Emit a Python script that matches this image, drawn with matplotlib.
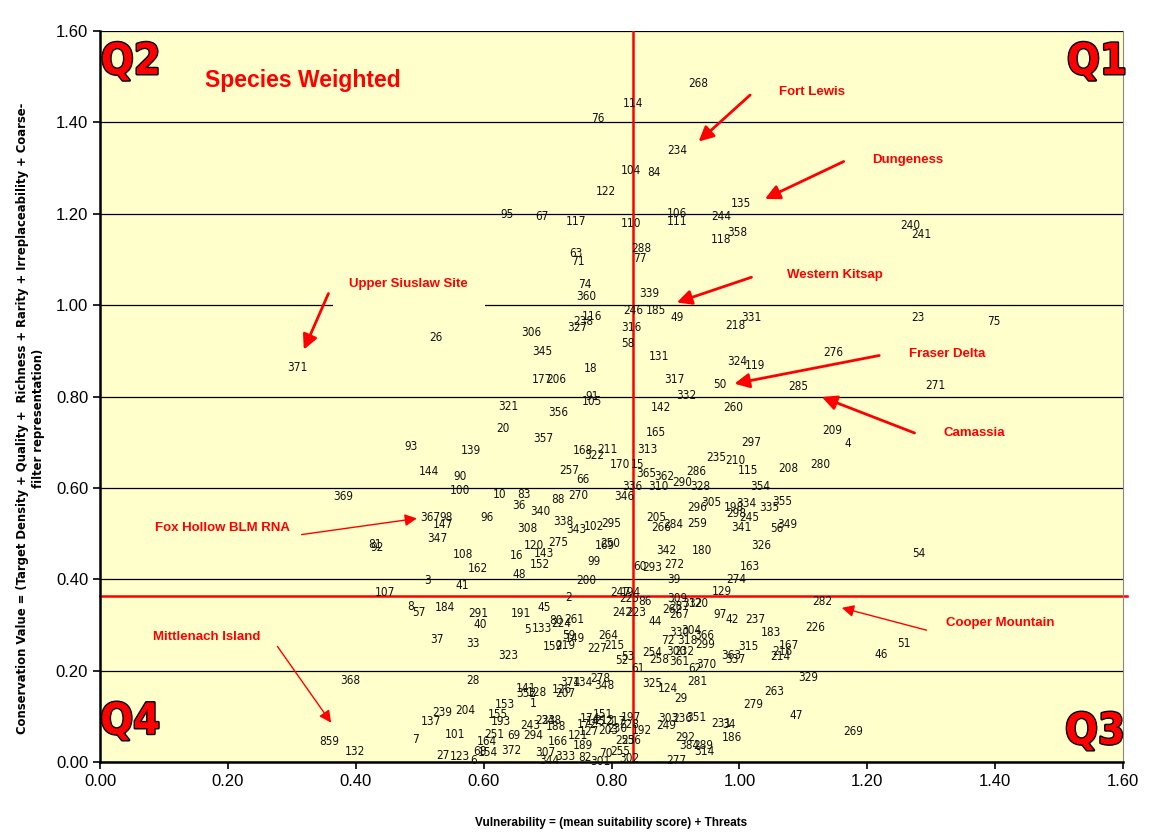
import matplotlib
matplotlib.use("Agg")
import matplotlib.pyplot as plt
import matplotlib.patheffects as pe
from matplotlib import font_manager

# ----------------------------
# Data (site id, vulnerability, conservation value)
# ----------------------------

site_ids = [
    268, 114, 76, 234, 104, 84, 122, 135, 95, 67, 117, 110, 106, 111, 244, 358, 118, 240, 241,
    288, 77, 63, 71, 74, 360, 339, 246, 185, 49, 116, 238, 327, 316, 58, 306, 26, 345, 218,
    331, 23, 75, 131, 18, 177, 206, 317, 324, 119, 50, 276, 271, 285, 332, 91, 105, 371,
    321, 356, 142, 260, 20, 357, 165, 209, 4, 93, 139, 168, 322, 211, 313, 297, 235, 210,
    170, 15, 257, 115, 208, 280, 144, 90, 365, 362, 286, 66, 290, 328, 354, 310, 336, 100,
    369, 10, 83, 270, 88, 346, 36, 340, 296, 305, 334, 198, 298, 245, 335, 355, 96, 367,
    98, 147, 338, 205, 308, 343, 102, 295, 266, 284, 259, 341, 56, 349, 347, 81, 92, 275,
    120, 143, 169, 250, 180, 326, 342, 54, 108, 16, 99, 152, 272, 60, 293, 163, 162, 48,
    274, 3, 41, 39, 200, 129, 107, 2, 247, 194, 225, 86, 309, 312, 320, 262, 287, 267, 282,
    8, 57, 184, 291, 40, 191, 45, 242, 223, 97, 42, 237, 5, 133, 80, 224, 261, 44, 226,
    183, 330, 304, 366, 37, 33, 59, 149, 264, 72, 318, 299, 167, 216, 315, 51, 159, 219,
    227, 215, 254, 258, 300, 232, 361, 363, 337, 214, 46, 323, 52, 53, 370, 62, 61, 368,
    28, 329, 281, 278, 348, 374, 134, 141, 352, 128, 126, 207, 325, 124, 263, 153, 1, 29,
    279, 239, 204, 155, 193, 137, 47, 859, 303, 236, 351, 231, 34, 249, 101, 7, 251, 69,
    164, 243, 294, 233, 248, 188, 186, 269, 166, 121, 127, 189, 292, 384, 289, 314, 27,
    123, 68, 6, 154, 372, 132, 333, 307, 344, 82, 301, 70, 255, 302, 277, 151, 174, 172,
    145, 213, 217, 203, 230, 197, 228, 192, 253, 256,
]

vulnerability = [
    0.936, 0.834, 0.778, 0.903, 0.830, 0.867, 0.791, 1.003, 0.636, 0.691, 0.744, 0.830, 0.902, 0.903, 0.972, 0.997, 0.972, 1.267, 1.284,
    0.847, 0.844, 0.744, 0.747, 0.759, 0.761, 0.859, 0.834, 0.869, 0.903, 0.769, 0.756, 0.747, 0.831, 0.825, 0.675, 0.525, 0.691, 0.994,
    1.019, 1.280, 1.398, 0.875, 0.767, 0.691, 0.714, 0.898, 0.997, 1.025, 0.970, 1.147, 1.306, 1.092, 0.917, 0.769, 0.769, 0.308,
    0.638, 0.717, 0.877, 0.991, 0.630, 0.694, 0.869, 1.145, 1.169, 0.486, 0.580, 0.756, 0.773, 0.794, 0.856, 1.019, 0.964, 0.994,
    0.814, 0.841, 0.734, 1.013, 1.077, 1.127, 0.514, 0.563, 0.855, 0.883, 0.933, 0.755, 0.911, 0.939, 1.033, 0.873, 0.833, 0.563,
    0.381, 0.625, 0.663, 0.748, 0.716, 0.820, 0.655, 0.689, 0.934, 0.956, 1.011, 0.992, 0.995, 1.016, 1.047, 1.067, 0.605, 0.517,
    0.541, 0.536, 0.725, 0.870, 0.669, 0.745, 0.773, 0.800, 0.878, 0.897, 0.934, 1.003, 1.058, 1.075, 0.527, 0.430, 0.433, 0.716,
    0.678, 0.695, 0.789, 0.798, 0.941, 1.034, 0.886, 1.280, 0.567, 0.652, 0.773, 0.688, 0.898, 0.844, 0.864, 1.017, 0.591, 0.655,
    0.995, 0.513, 0.567, 0.898, 0.761, 0.972, 0.445, 0.733, 0.813, 0.831, 0.828, 0.852, 0.903, 0.927, 0.936, 0.895, 0.906, 0.906, 1.130,
    0.486, 0.498, 0.539, 0.592, 0.595, 0.658, 0.694, 0.817, 0.839, 0.969, 0.989, 1.025, 0.669, 0.692, 0.713, 0.722, 0.742, 0.869, 1.119,
    1.050, 0.906, 0.925, 0.945, 0.527, 0.584, 0.733, 0.742, 0.795, 0.888, 0.919, 0.947, 1.077, 1.067, 1.014, 1.258, 0.709, 0.728,
    0.778, 0.805, 0.864, 0.875, 0.902, 0.914, 0.906, 0.988, 0.994, 1.064, 1.222, 0.638, 0.816, 0.825, 0.948, 0.931, 0.842, 0.391,
    0.584, 1.108, 0.934, 0.783, 0.789, 0.736, 0.756, 0.666, 0.667, 0.684, 0.723, 0.728, 0.863, 0.888, 1.055, 0.634, 0.678, 0.908,
    1.022, 0.536, 0.572, 0.622, 0.627, 0.517, 1.089, 0.359, 0.889, 0.911, 0.933, 0.972, 0.983, 0.885, 0.555, 0.494, 0.617, 0.647,
    0.605, 0.673, 0.677, 0.697, 0.706, 0.713, 0.988, 1.178, 0.716, 0.748, 0.764, 0.756, 0.916, 0.922, 0.944, 0.945, 0.536,
    0.563, 0.594, 0.584, 0.606, 0.644, 0.398, 0.728, 0.697, 0.702, 0.759, 0.783, 0.791, 0.813, 0.828, 0.902, 0.786, 0.766, 0.761,
    0.775, 0.789, 0.806, 0.795, 0.809, 0.830, 0.828, 0.848, 0.822, 0.830,
]

conservation = [
    1.486, 1.442, 1.409, 1.339, 1.295, 1.291, 1.249, 1.223, 1.199, 1.195, 1.184, 1.179, 1.201, 1.184, 1.195, 1.160, 1.144, 1.175, 1.155,
    1.123, 1.103, 1.112, 1.096, 1.046, 1.020, 1.026, 0.989, 0.989, 0.972, 0.976, 0.965, 0.950, 0.950, 0.917, 0.941, 0.930, 0.899, 0.956,
    0.974, 0.974, 0.965, 0.888, 0.862, 0.838, 0.838, 0.838, 0.877, 0.869, 0.827, 0.897, 0.825, 0.821, 0.803, 0.799, 0.790, 0.864,
    0.779, 0.766, 0.777, 0.777, 0.729, 0.709, 0.722, 0.726, 0.698, 0.691, 0.681, 0.681, 0.670, 0.685, 0.683, 0.700, 0.667, 0.659,
    0.652, 0.652, 0.639, 0.637, 0.643, 0.652, 0.635, 0.626, 0.632, 0.626, 0.635, 0.619, 0.611, 0.602, 0.602, 0.602, 0.602, 0.595,
    0.582, 0.586, 0.586, 0.584, 0.575, 0.582, 0.562, 0.549, 0.558, 0.567, 0.565, 0.558, 0.545, 0.536, 0.558, 0.571, 0.536, 0.536,
    0.536, 0.519, 0.527, 0.536, 0.512, 0.510, 0.516, 0.523, 0.514, 0.519, 0.521, 0.514, 0.512, 0.519, 0.490, 0.477, 0.470, 0.481,
    0.473, 0.457, 0.475, 0.479, 0.462, 0.473, 0.462, 0.457, 0.455, 0.451, 0.438, 0.433, 0.433, 0.429, 0.425, 0.429, 0.424, 0.411,
    0.400, 0.398, 0.387, 0.400, 0.398, 0.374, 0.372, 0.361, 0.372, 0.372, 0.357, 0.352, 0.359, 0.348, 0.348, 0.333, 0.341, 0.322, 0.352,
    0.341, 0.328, 0.339, 0.324, 0.302, 0.326, 0.339, 0.328, 0.328, 0.322, 0.313, 0.311, 0.291, 0.293, 0.309, 0.304, 0.311, 0.308, 0.295,
    0.284, 0.284, 0.287, 0.278, 0.269, 0.260, 0.276, 0.271, 0.278, 0.267, 0.265, 0.258, 0.254, 0.243, 0.252, 0.260, 0.252, 0.256,
    0.249, 0.254, 0.239, 0.225, 0.243, 0.241, 0.219, 0.234, 0.225, 0.232, 0.236, 0.234, 0.223, 0.230, 0.214, 0.204, 0.204, 0.179,
    0.179, 0.186, 0.177, 0.182, 0.168, 0.175, 0.175, 0.162, 0.151, 0.153, 0.158, 0.151, 0.171, 0.160, 0.155, 0.127, 0.129, 0.138,
    0.125, 0.109, 0.112, 0.105, 0.088, 0.088, 0.101, 0.046, 0.096, 0.096, 0.098, 0.085, 0.083, 0.079, 0.061, 0.050, 0.061, 0.057,
    0.044, 0.079, 0.059, 0.090, 0.090, 0.077, 0.053, 0.066, 0.046, 0.059, 0.066, 0.037, 0.053, 0.037, 0.037, 0.022, 0.015,
    0.013, 0.022, 0.004, 0.020, 0.026, 0.022, 0.013, 0.020, 0.004, 0.009, 0.002, 0.018, 0.022, 0.007, 0.004, 0.103, 0.096, 0.083,
    0.088, 0.090, 0.088, 0.070, 0.074, 0.098, 0.083, 0.068, 0.048, 0.048,
]

# named sites: label, text position, arrow start, arrow tip, line width
site_names = ["Fort Lewis", "Dungeness", "Western Kitsap", "Upper Siuslaw Site", "Fraser Delta",
              "Camassia", "Fox Hollow BLM RNA", "Cooper Mountain", "Mittlenach Island"]
name_pos = [(1.114, 1.466), (1.264, 1.317), (1.150, 1.066), (0.483, 1.046), (1.325, 0.893),
            (1.367, 0.720), (0.191, 0.512), (1.408, 0.304), (0.167, 0.274)]
arrow_from = [(1.020, 1.464), (1.167, 1.317), (1.023, 1.063), (0.359, 1.031), (1.223, 0.891),
              (1.278, 0.718), (0.311, 0.497), (1.297, 0.287), (0.275, 0.258)]
arrow_to = [(0.933, 1.354), (1.036, 1.230), (0.898, 1.004), (0.317, 0.897), (0.988, 0.827),
            (1.125, 0.801), (0.500, 0.534), (1.156, 0.339), (0.364, 0.081)]
arrow_lw = [2, 2, 2, 2, 2, 2, 1, 1, 1]

quadrants = ["Q1", "Q2", "Q3", "Q4"]
quad_pos = [(1.559, 1.532), (0.048, 1.532), (1.556, 0.066), (0.047, 0.088)]

x_split = 0.833
y_split = 0.363

# ----------------------------
# Fonts: use an upright narrow face when one is installed
# ----------------------------


def find_narrow(bold):
    for f in font_manager.fontManager.ttflist:
        if f.style != "normal":
            continue
        is_bold = f.weight in (700, "bold")
        if is_bold != bold:
            continue
        if f.name == "Liberation Sans Narrow":
            return f.fname
    for f in font_manager.fontManager.ttflist:
        if f.style != "normal":
            continue
        is_bold = f.weight in (700, "bold")
        if is_bold != bold:
            continue
        if f.name == "DejaVu Sans" and f.stretch == "condensed":
            return f.fname
    return None


narrow_fp = find_narrow(False)
narrow_bold_fp = find_narrow(True)


def narrow(size, bold=False):
    path = narrow_bold_fp if bold else narrow_fp
    if path:
        return font_manager.FontProperties(fname=path, size=size)
    return font_manager.FontProperties(family="Liberation Sans", size=size,
                                       weight="bold" if bold else "normal")


# ----------------------------
# Plot
# ----------------------------

plt.rcParams["font.family"] = ["Liberation Sans", "DejaVu Sans"]

fig = plt.figure(figsize=(11.55, 8.34), dpi=100)
ax = fig.add_axes([0.0866, 0.0863, 0.8857, 0.8765])
ax.set_facecolor("#ffffcc")

ax.set_xlim(0, 1.6)
ax.set_ylim(0, 1.6)
ax.set_xticks([i * 0.2 for i in range(9)])
ax.set_yticks([i * 0.2 for i in range(9)])
ax.set_xticklabels([f"{i * 0.2:.2f}" for i in range(9)], fontsize=12)
ax.set_yticklabels([f"{i * 0.2:.2f}" for i in range(9)], fontsize=12)
ax.tick_params(direction="out", length=5, width=1.2)
ax.yaxis.grid(True, color="black", lw=0.9)
ax.set_axisbelow(True)

for side in ["left", "bottom"]:
    ax.spines[side].set_linewidth(1.8)
ax.spines["top"].set_visible(False)
ax.spines["right"].set_color("#888888")

ax.axvline(x_split, color="red", lw=1.8, zorder=2)
ax.axhline(y_split, color="red", lw=1.8, xmax=1.004, clip_on=False, zorder=2)

label_font = narrow(8.5)
for lab, xv, yv in zip(site_ids, vulnerability, conservation):
    ax.text(xv, yv, str(lab), fontproperties=label_font,
            ha="center", va="center", color="#111111", zorder=3, clip_on=False)

for name, tp, a0, a1, lw in zip(site_names, name_pos, arrow_from, arrow_to, arrow_lw):
    ax.annotate("", xy=a1, xytext=a0,
                arrowprops=dict(arrowstyle="-|>", color="red", lw=lw, mutation_scale=22 if lw > 1 else 18),
                zorder=4)
    bbox = None
    if name == "Upper Siuslaw Site":
        bbox = dict(facecolor="#ffffcc", edgecolor="none", pad=12)
    ax.text(tp[0], tp[1], name, color="red", fontsize=9.5, fontweight="bold",
            ha="center", va="center", bbox=bbox, zorder=3.5)

ax.text(0.317, 1.492, "Species Weighted", color="red", fontsize=16.5, fontweight="bold",
        ha="center", va="center", zorder=4)

q_font = narrow(31, bold=True)
for q, (qx, qy) in zip(quadrants, quad_pos):
    ax.text(qx, qy, q, color="red", fontproperties=q_font, ha="center", va="center", zorder=4,
            path_effects=[pe.withStroke(linewidth=2, foreground="black")])

ax.set_xlabel("Vulnerability = (mean suitability score) + Threats", fontsize=8.5,
              fontweight="bold", labelpad=20)
ax.set_ylabel("Conservation Value = (Target Density + Quality +  Richness + Rarity + Irreplaceability + Coarse-\nfilter representation)",
              fontproperties=narrow(9.3, bold=True), labelpad=10, linespacing=1.25)
ax.yaxis.set_label_coords(-0.054, 0.47)

fig.savefig("out.png", dpi=100)
